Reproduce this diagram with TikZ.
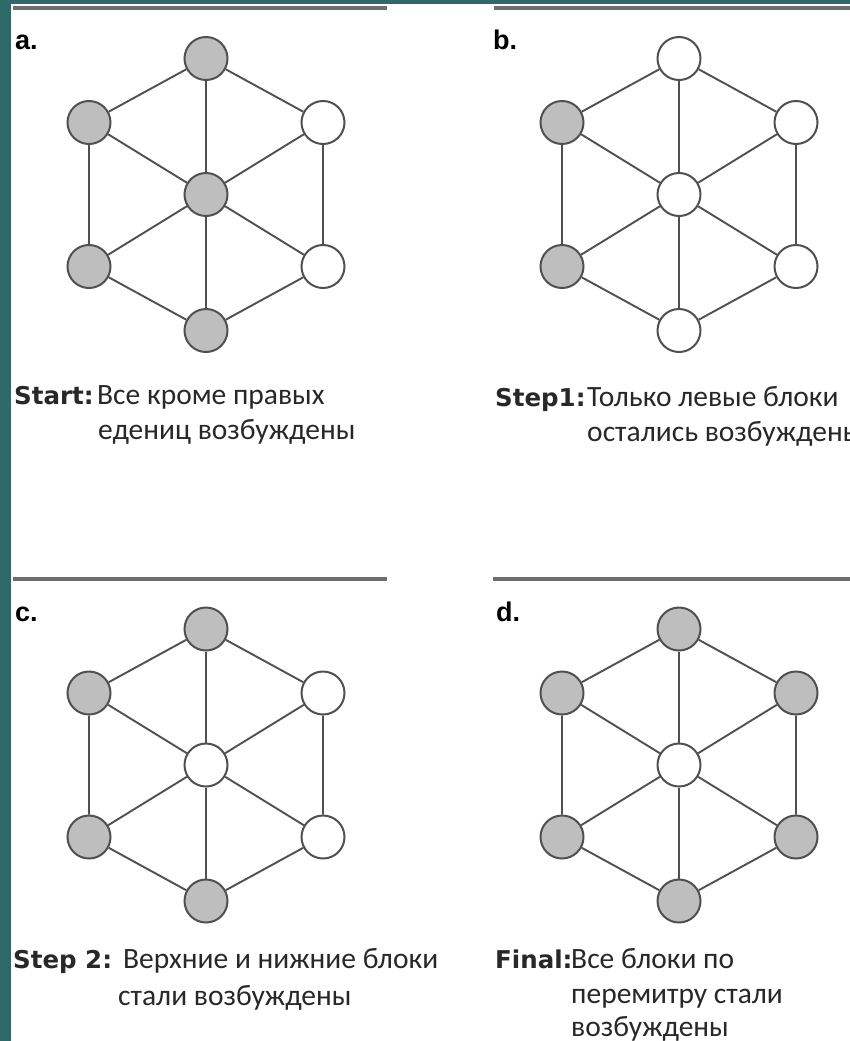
\documentclass[tikz,border=0pt]{standalone}
\usepackage{fontspec}
\setmainfont{Carlito}
\newfontfamily\headfont{Liberation Sans}
\newfontfamily\keyfont{DejaVu Sans}
\usetikzlibrary{positioning}

\definecolor{slidebar}{RGB}{46,104,104}
\definecolor{unitgray}{RGB}{190,190,190}
\definecolor{edgegray}{RGB}{80,80,80}
\definecolor{rulegray}{RGB}{110,110,110}
\definecolor{notetext}{RGB}{40,40,40}

\begin{document}
\begin{tikzpicture}[
  x=1pt, y=-1pt,
  unit/.style={circle, draw=edgegray, line width=2pt, minimum size=43pt, inner sep=0pt, fill=white},
  on/.style={unit, fill=unitgray},
  off/.style={unit},
  link/.style={draw=edgegray, line width=1.9pt},
  rule/.style={draw=rulegray, line width=4pt},
  tag/.style={font=\headfont\bfseries\fontsize{27}{27}\selectfont, anchor=base west, inner sep=0pt},
  key/.style={font=\keyfont\bfseries\fontsize{24.5}{24.5}\selectfont, text=notetext, anchor=base west, inner sep=0pt},
  note/.style={font=\fontsize{29.5}{35}\selectfont, text=notetext, anchor=base west, inner sep=0pt},
]
\useasboundingbox (0,0) rectangle (850,1041);
\clip (0,0) rectangle (850,1041);
\fill[slidebar] (0,0) rectangle (850,1041);
\fill[white] (11,4) rectangle (850,1041);

% four wheels: top, upper left/right, centre, lower left/right, bottom
\foreach \p/\cx/\cy/\sT/\sUL/\sUR/\sC/\sLL/\sLR/\sB in {
    a/206/194.5/on/on/off/on/on/off/on,
    b/679/194.5/off/on/off/off/on/off/off,
    c/206/765/on/on/off/off/on/off/on,
    d/679/765/on/on/on/off/on/on/on} {
  \node[\sT]  (\p-t)  at (\cx,\cy-136) {};
  \node[\sUL] (\p-ul) at (\cx-117,\cy-72) {};
  \node[\sUR] (\p-ur) at (\cx+117,\cy-72) {};
  \node[\sC]  (\p-c)  at (\cx,\cy) {};
  \node[\sLL] (\p-ll) at (\cx-117,\cy+72) {};
  \node[\sLR] (\p-lr) at (\cx+117,\cy+72) {};
  \node[\sB]  (\p-b)  at (\cx,\cy+136) {};
  \draw[link] (\p-t) -- (\p-ur) -- (\p-lr) -- (\p-b) -- (\p-ll) -- (\p-ul) -- (\p-t);
  \foreach \v in {t,ul,ur,ll,lr,b}
    \draw[link] (\p-c) -- (\p-\v);
}

% panel rules and letters
\draw[rule] (13,8.5) -- (387,8.5);
\draw[rule] (494,8.5) -- (850,8.5);
\draw[rule] (13,579) -- (387,579);
\draw[rule] (493,579) -- (850,579);
\node[tag] (tag-a) at (15,50) {a.};
\node[tag] (tag-b) at (493,50) {b.};
\node[tag] (tag-c) at (15,621) {c.};
\node[tag] (tag-d) at (496,621) {d.};

% captions
\node[key]  (key-a)  at (14,404) {Start:};
\node[note] (note-a1) at (97,404) {Все кроме правых};
\node[note] (note-a2) at (98,439) {едениц возбуждены};

\node[key]  (key-b)  at (495,406) {Step1:};
\node[note] (note-b1) at (587,406) {Только левые блоки};
\node[note] (note-b2) at (587,441) {остались возбуждены};

\node[key]  (key-c)  at (13,968) {Step 2:};
\node[note] (note-c1) at (123,968) {Верхние и нижние блоки};
\node[note] (note-c2) at (118,1005) {стали возбуждены};

\node[key]  (key-d)  at (495,968) {Final:};
\node[note] (note-d1) at (571,968) {Все блоки по};
\node[note] (note-d2) at (571,1003) {перемитру стали};
\node[note] (note-d3) at (571,1036) {возбуждены};
\end{tikzpicture}
\end{document}
